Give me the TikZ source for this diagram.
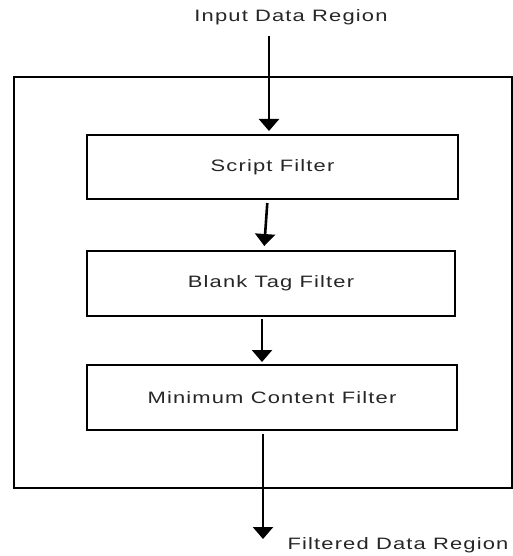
\documentclass[tikz,border=0pt]{standalone}
\usepackage{fontspec}
\newfontfamily\lblfont{Liberation Sans}[FakeStretch=1.33,LetterSpace=7]
\usetikzlibrary{arrows.meta}
\begin{document}
\begin{tikzpicture}[x=1pt,y=-1pt,
    lbl/.style={font=\lblfont\fontsize{16.5}{19}\selectfont, text=black!85},
    filterbox/.style={draw, line width=2pt, inner sep=0pt, lbl},
    flow/.style={line width=2.6pt, -{Triangle[width=20pt,length=12pt]}}]
  \useasboundingbox (0,0) rectangle (513,556);
  % enclosing frame
  \node[draw, line width=2pt, minimum width=498pt, minimum height=411pt, inner sep=0pt]
    (frame) at (263,282.5) {};
  % filter stages
  \node[filterbox, minimum width=371pt, minimum height=64pt] (s1) at (272.5,167) {Script Filter};
  \node[filterbox, minimum width=368pt, minimum height=65pt] (s2) at (271,283.5) {Blank Tag Filter};
  \node[filterbox, minimum width=370pt, minimum height=65pt] (s3) at (272,397.5) {Minimum Content Filter};
  % region labels
  \node[lbl] (inlbl) at (291,17) {Input Data Region};
  \node[lbl, anchor=west] (outlbl) at (284,545) {Filtered Data Region};
  \coordinate (in) at (269,36);
  \coordinate (out) at (263,539);
  % connectors
  \draw[flow, shorten >=3pt] (in) -- (in |- s1.north);
  \draw[flow, shorten <=3pt, shorten >=4pt] ([xshift=-5pt]s1.south) -- ([xshift=-7pt]s2.north);
  \draw[flow, shorten <=2pt, shorten >=2pt] ([xshift=-9pt]s2.south) -- ([xshift=-10pt]s3.north);
  \draw[flow, shorten <=3pt] (out |- s3.south) -- (out);
\end{tikzpicture}
\end{document}
